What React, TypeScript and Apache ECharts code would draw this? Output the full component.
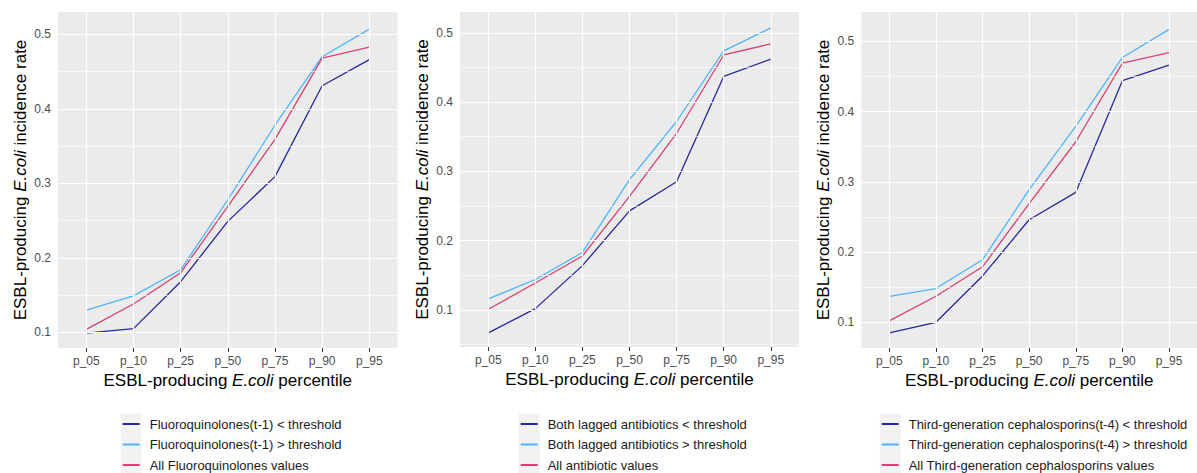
import React, { useEffect, useRef } from "react";
import * as echarts from "echarts";

const categories = ["p_05", "p_10", "p_25", "p_50", "p_75", "p_90", "p_95"];
const yTicks = [0.1, 0.2, 0.3, 0.4, 0.5];

const fqBelow = [0.099, 0.105, 0.168, 0.249, 0.309, 0.431, 0.466];
const fqAbove = [0.130, 0.149, 0.184, 0.278, 0.378, 0.470, 0.507];
const fqAll = [0.104, 0.138, 0.180, 0.269, 0.359, 0.468, 0.483];

const bothBelow = [0.067, 0.102, 0.164, 0.243, 0.285, 0.437, 0.462];
const bothAbove = [0.116, 0.144, 0.183, 0.288, 0.372, 0.474, 0.507];
const bothAll = [0.101, 0.139, 0.178, 0.264, 0.355, 0.468, 0.484];

const cephBelow = [0.085, 0.100, 0.166, 0.246, 0.285, 0.444, 0.466];
const cephAbove = [0.137, 0.148, 0.189, 0.289, 0.379, 0.477, 0.517];
const cephAll = [0.102, 0.137, 0.179, 0.269, 0.357, 0.469, 0.484];

const panelNames = [
  [
    "Fluoroquinolones(t-1) < threshold",
    "Fluoroquinolones(t-1) > threshold",
    "All Fluoroquinolones values",
  ],
  [
    "Both lagged antibiotics < threshold",
    "Both lagged antibiotics > threshold",
    "All antibiotic values",
  ],
  [
    "Third-generation cephalosporins(t-4) < threshold",
    "Third-generation cephalosporins(t-4) > threshold",
    "All Third-generation cephalosporins values",
  ],
];
const panelData = [
  [fqBelow, fqAbove, fqAll],
  [bothBelow, bothAbove, bothAll],
  [cephBelow, cephAbove, cephAll],
];
const yRanges = [
  [0.079, 0.530],
  [0.0466, 0.530],
  [0.0634, 0.5417],
];

const COLORS = ["#2626a0", "#4db3ff", "#d9416e"];
const FONT = "Liberation Sans, Arial, sans-serif";

const grids = [
  { left: 58, top: 12, width: 339.6, height: 336 },
  { left: 460, top: 12, width: 339, height: 335 },
  { left: 861.3, top: 12, width: 339.7, height: 336 },
];
const legendLeft = [122.7, 520.7, 881.7];
const legendRowTop = [417, 437.5, 458];

export default function App() {
  const ref = useRef<HTMLDivElement>(null);
  useEffect(() => {
    if (!ref.current) return;
    const chart = echarts.init(ref.current, null, { renderer: "svg" });
    const rich = {
      a: { fontSize: 17, color: "#000", fontFamily: FONT },
      i: { fontSize: 17, color: "#000", fontFamily: FONT, fontStyle: "italic" },
    };
    const xAxis: any[] = [];
    const yAxis: any[] = [];
    const series: any[] = [];
    const legend: any[] = [];
    const graphic: any[] = [];
    for (let p = 0; p < 3; p++) {
      xAxis.push({
        type: "value",
        gridIndex: p,
        min: -0.6,
        max: categories.length - 1 + 0.6,
        axisLine: { show: false },
        splitLine: { show: false },
        axisTick: {
          show: true,
          length: 4,
          lineStyle: { color: "#333" },
          customValues: categories.map((_, i) => i),
        },
        axisLabel: {
          customValues: categories.map((_, i) => i),
          formatter: (v: number) => categories[Math.round(v)] ?? "",
          color: "#4d4d4d",
          fontSize: 12,
          fontFamily: FONT,
          margin: 7,
        },
        name: "{a|ESBL-producing }{i|E.coli}{a| percentile}",
        nameLocation: "middle",
        nameGap: 23,
        nameTextStyle: { rich },
      });
      yAxis.push({
        type: "value",
        gridIndex: p,
        min: yRanges[p][0],
        max: yRanges[p][1],
        axisLine: { show: false },
        splitLine: { show: false },
        axisTick: {
          show: true,
          length: 4,
          lineStyle: { color: "#333" },
          customValues: yTicks,
        },
        axisLabel: {
          customValues: yTicks,
          formatter: (v: number) => v.toFixed(1),
          color: "#4d4d4d",
          fontSize: 12,
          fontFamily: FONT,
          margin: 7,
        },
        name: "{a|ESBL-producing }{i|E.coli}{a| incidence rate}",
        nameLocation: "middle",
        nameGap: 29,
        nameTextStyle: { rich },
      });
      const minor: number[] = [];
      for (let v = 0.05; v < 0.6; v += 0.1) {
        const r = Math.round(v * 100) / 100;
        if (r > yRanges[p][0] && r < yRanges[p][1]) minor.push(r);
      }
      series.push({
        type: "line",
        name: "grid" + p,
        xAxisIndex: p,
        yAxisIndex: p,
        data: [],
        z: 1,
        silent: true,
        markLine: {
          silent: true,
          symbol: "none",
          label: { show: false },
          animation: false,
          data: [
            ...minor.map((v) => ({ yAxis: v, lineStyle: { color: "#fff", width: 0.6, type: "solid" } })),
            ...yTicks.map((v) => ({ yAxis: v, lineStyle: { color: "#fff", width: 1.2, type: "solid" } })),
            ...categories.map((_, i) => ({ xAxis: i, lineStyle: { color: "#fff", width: 1.2, type: "solid" } })),
          ],
        },
      });
      for (let s = 0; s < 3; s++) {
        series.push({
          type: "line",
          name: panelNames[p][s],
          xAxisIndex: p,
          yAxisIndex: p,
          data: panelData[p][s].map((v, i) => [i, v]),
          showSymbol: false,
          symbol: "none",
          lineStyle: { color: COLORS[s], width: 1.3 },
          itemStyle: { color: COLORS[s] },
          z: 3,
        });
        legend.push({
          data: [panelNames[p][s]],
          orient: "vertical",
          left: legendLeft[p],
          top: legendRowTop[s],
          padding: 0,
          itemWidth: 17,
          itemHeight: 2,
          icon: "rect",
          selectedMode: false,
          textStyle: {
            fontSize: 13,
            fontFamily: FONT,
            color: "#1a1a1a",
            lineHeight: 14,
            padding: [0, 0, 0, 5],
          },
        });
      }
      graphic.push({
        type: "rect",
        shape: { x: legendLeft[p] - 2, y: 413.5, width: 21, height: 62 },
        style: { fill: "#f2f2f2" },
        z: 0,
      });
    }
    chart.setOption({
      animation: false,
      backgroundColor: "#fff",
      grid: grids.map((g) => ({
        ...g,
        show: true,
        backgroundColor: "#ebebeb",
        borderWidth: 0,
      })),
      xAxis,
      yAxis,
      series,
      legend,
      graphic,
    });
    return () => chart.dispose();
  }, []);
  return (
    <div
      ref={ref}
      style={{ position: "fixed", left: 0, top: 0, width: 1197, height: 473 }}
    />
  );
}
